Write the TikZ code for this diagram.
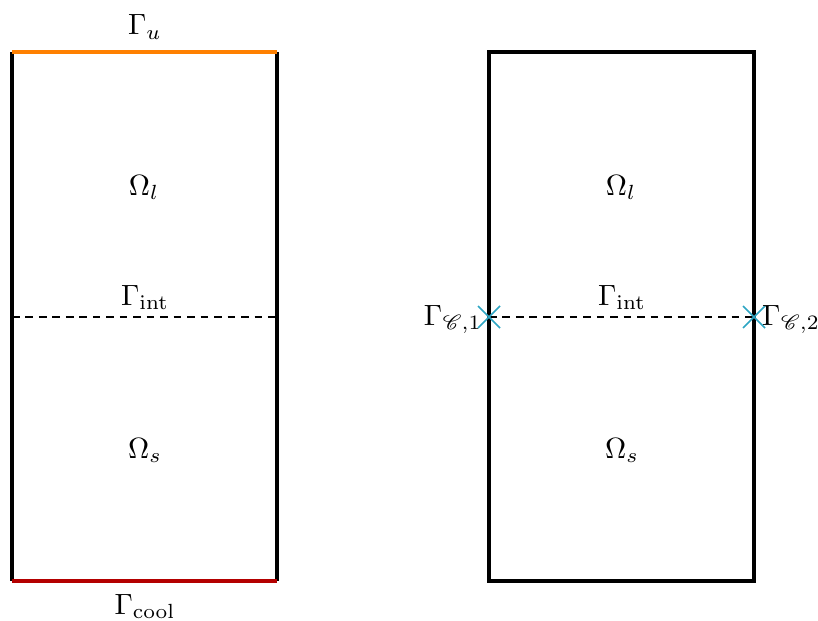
\documentclass[tikz,border=0pt]{standalone}
\usepackage{graphicx}
\usepackage{mathrsfs}
\newcommand{\mylab}[1]{\scalebox{2.5}{$#1$}}
\begin{document}
\begin{tikzpicture}[x=0.03cm,y=-0.03cm,
  wall/.style={line width=2.6pt},
  lbl/.style={inner sep=0pt, anchor=base},
  bnd/.style={line width=3pt},
  midline/.style={line width=1.3pt, dash pattern=on 6.5pt off 5pt}]
\useasboundingbox (0,0) rectangle (818,621);
\definecolor{myorange}{RGB}{255,128,0}
\definecolor{myred}{RGB}{180,0,0}
\definecolor{mycyan}{RGB}{45,165,195}
% left domain
\coordinate (ltl) at (12,52);
\coordinate (ltr) at (277,52);
\coordinate (lbl) at (12,581);
\coordinate (lbr) at (277,581);
\coordinate (lml) at (12,317);
\coordinate (lmr) at (277,317);
\draw[wall] (ltl) -- (lbl);
\draw[wall] (ltr) -- (lbr);
\draw[bnd, myorange] (ltl) -- (ltr);
\draw[bnd, myred] (lbl) -- (lbr);
\draw[midline] (lml) -- (lmr);
\node[lbl] (gu) at (145,35) {\mylab{\Gamma_u}};
\node[lbl] (ol1) at (144,195) {\mylab{\Omega_l}};
\node[lbl] (gi1) at (145,305) {\mylab{\Gamma_{\mathrm{int}}}};
\node[lbl] (os1) at (145,458) {\mylab{\Omega_s}};
\node[lbl] (gc) at (145,614) {\mylab{\Gamma_{\mathrm{cool}}}};
% right domain
\coordinate (rtl) at (489,52);
\coordinate (rtr) at (754,52);
\coordinate (rbl) at (489,581);
\coordinate (rbr) at (754,581);
\coordinate (rml) at (489,317);
\coordinate (rmr) at (754,317);
\draw[wall] (rtl) rectangle (rbr);
\draw[midline] (rml) -- (rmr);
\node[lbl] (ol2) at (621,195) {\mylab{\Omega_l}};
\node[lbl] (gi2) at (622,305) {\mylab{\Gamma_{\mathrm{int}}}};
\node[lbl] (os2) at (622,458) {\mylab{\Omega_s}};
\foreach \p in {rml,rmr}{
  \draw[line width=1.4pt, mycyan] ([shift={(-11,-11)}]\p) -- ([shift={(11,11)}]\p);
  \draw[line width=1.4pt, mycyan] ([shift={(-11,11)}]\p) -- ([shift={(11,-11)}]\p);
}
\node[lbl, anchor=base east] (gc1) at (482,325) {\mylab{\Gamma_{\mathscr{C},1}}};
\node[lbl, anchor=base west] (gc2) at (762,325) {\mylab{\Gamma_{\mathscr{C},2}}};
\end{tikzpicture}
\end{document}
